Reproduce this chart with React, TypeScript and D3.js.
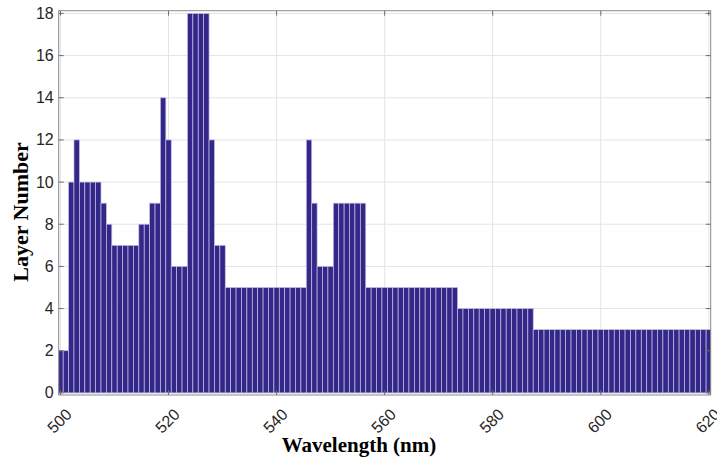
import React from "react";
import * as d3 from "d3";

// Wavelength axis (nm), one bar per integer wavelength
const wavelengths: number[] = d3.range(500, 621);

// Layer number at each wavelength, 500 nm .. 620 nm
const layerNumbers: number[] = [
  2, 2, 10, 12, 10, 10, 10, 10, 9, 8,
  7, 7, 7, 7, 7, 8, 8, 9, 9, 14,
  12, 6, 6, 6, 18, 18, 18, 18, 12, 7,
  7, 5, 5, 5, 5, 5, 5, 5, 5, 5,
  5, 5, 5, 5, 5, 5, 12, 9, 6, 6,
  6, 9, 9, 9, 9, 9, 9, 5, 5, 5,
  5, 5, 5, 5, 5, 5, 5, 5, 5, 5,
  5, 5, 5, 5, 4, 4, 4, 4, 4, 4,
  4, 4, 4, 4, 4, 4, 4, 4, 3, 3,
  3, 3, 3, 3, 3, 3, 3, 3, 3, 3,
  3, 3, 3, 3, 3, 3, 3, 3, 3, 3,
  3, 3, 3, 3, 3, 3, 3, 3, 3, 3,
  3,
];

const xTicks: number[] = [500, 520, 540, 560, 580, 600, 620];
const yTicks: number[] = [0, 2, 4, 6, 8, 10, 12, 14, 16, 18];

const xTitle = "Wavelength (nm)";
const yTitle = "Layer Number";

const W = 717;
const H = 457;
const plot = { left: 58.7, right: 710.7, top: 10.7, bottom: 395 };

export default function App() {
  const x = d3.scaleLinear().domain([499.67, 620.35]).range([plot.left, plot.right]);
  const y = d3.scaleLinear().domain([-0.1, 18.13]).range([plot.bottom, plot.top]);
  const bw = x(501) - x(500);

  const tickFont = "'Liberation Sans', Arial, sans-serif";
  const titleFont = "'Liberation Serif', 'Times New Roman', serif";

  return (
    <svg
      width={W}
      height={H}
      viewBox={`0 0 ${W} ${H}`}
      style={{ position: "absolute", left: 0, top: 0, background: "#fff" }}
    >
      <defs>
        <clipPath id="plotClip">
          <rect x={plot.left} y={plot.top} width={plot.right - plot.left} height={plot.bottom - plot.top} />
        </clipPath>
      </defs>

      {/* grid */}
      <g stroke="#e4e4e4" strokeWidth={1}>
        {xTicks.map((t) => (
          <line key={`gx${t}`} x1={x(t)} x2={x(t)} y1={plot.top} y2={plot.bottom} />
        ))}
        {yTicks.map((t) => (
          <line key={`gy${t}`} x1={plot.left} x2={plot.right} y1={y(t)} y2={y(t)} />
        ))}
      </g>

      {/* bars */}
      <g clipPath="url(#plotClip)">
        {wavelengths.map((w, i) => (
          <rect
            key={w}
            x={x(w - 0.5)}
            y={y(layerNumbers[i])}
            width={bw}
            height={y(0) - y(layerNumbers[i])}
            fill="#33288a"
            stroke="#c2bee3"
            strokeWidth={0.7}
          />
        ))}
      </g>

      {/* axes box and ticks */}
      <rect
        x={plot.left}
        y={plot.top}
        width={plot.right - plot.left}
        height={plot.bottom - plot.top}
        fill="none"
        stroke="#8a8a8a"
        strokeWidth={1}
      />
      <g stroke="#6e6e6e" strokeWidth={1}>
        {xTicks.map((t) => (
          <g key={`tx${t}`}>
            <line x1={x(t)} x2={x(t)} y1={plot.bottom} y2={plot.bottom - 5} />
            <line x1={x(t)} x2={x(t)} y1={plot.top} y2={plot.top + 5} />
          </g>
        ))}
        {yTicks.map((t) => (
          <g key={`ty${t}`}>
            <line x1={plot.left} x2={plot.left + 5} y1={y(t)} y2={y(t)} />
            <line x1={plot.right} x2={plot.right - 5} y1={y(t)} y2={y(t)} />
          </g>
        ))}
      </g>

      {/* tick labels */}
      <g fontFamily={tickFont} fontSize={16} fill="#262626">
        {yTicks.map((t) => (
          <text key={`ly${t}`} x={plot.left - 5} y={y(t)} textAnchor="end" dominantBaseline="central">
            {t}
          </text>
        ))}
        {xTicks.map((t) => {
          const cx = x(t) - 1;
          const cy = 421;
          return (
            <text
              key={`lx${t}`}
              x={cx}
              y={cy}
              textAnchor="middle"
              dominantBaseline="central"
              transform={`rotate(-45 ${cx} ${cy})`}
            >
              {t}
            </text>
          );
        })}
      </g>

      {/* axis titles */}
      <text
        x={359}
        y={452}
        textAnchor="middle"
        fontFamily={titleFont}
        fontWeight="bold"
        fontSize={21}
        fill="#000"
      >
        {xTitle}
      </text>
      <text
        transform={`translate(28 212) rotate(-90)`}
        textAnchor="middle"
        fontFamily={titleFont}
        fontWeight="bold"
        fontSize={22}
        fill="#000"
      >
        {yTitle}
      </text>
    </svg>
  );
}
